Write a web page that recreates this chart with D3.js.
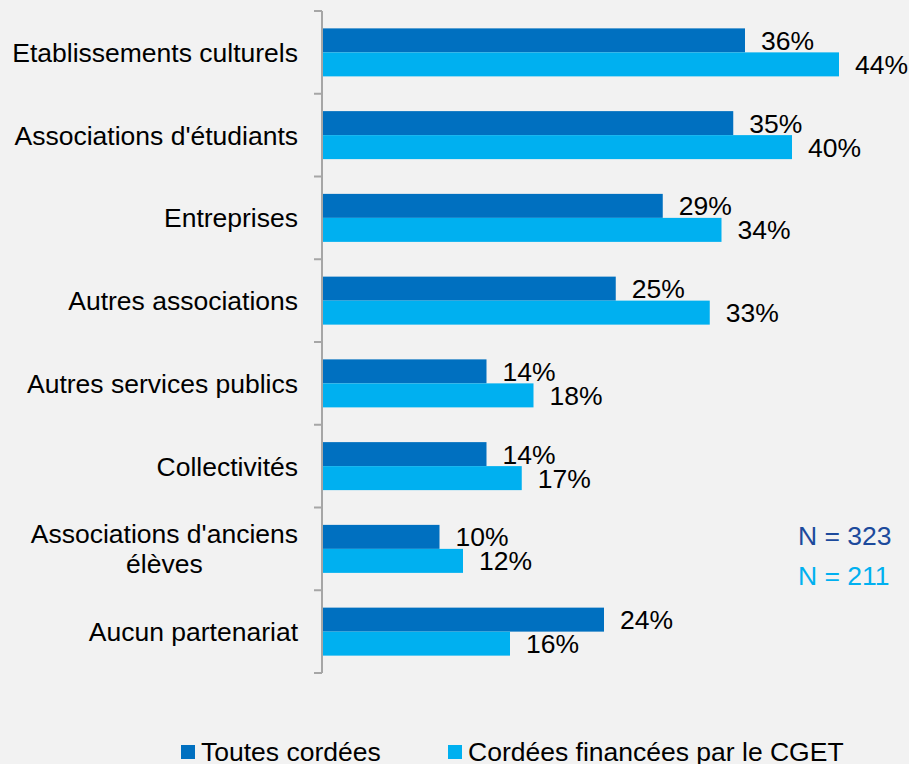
<!DOCTYPE html>
<html>
<head>
<meta charset="utf-8">
<script src="https://cdn.jsdelivr.net/npm/d3@7"></script>
<style>
  body { margin: 0; background: #f2f2f2; }
  svg { display: block; font-family: "Liberation Sans", Arial, sans-serif; }
</style>
</head>
<body>
<div id="chart"></div>
<script>
// categories and values
var categories = ["Etablissements culturels", "Associations d'étudiants", "Entreprises",
  "Autres associations", "Autres services publics", "Collectivités",
  "Associations d'anciens élèves", "Aucun partenariat"];
var toutes = [36, 35, 29, 25, 14, 14, 10, 24];
var cget = [44, 40, 34, 33, 18, 17, 12, 16];
var seriesNames = ["Toutes cordées", "Cordées financées par le CGET"];
var nLabels = ["N = 323", "N = 211"];

var svgWidth = 909, svgHeight = 764;
var colors = ["#0070c0", "#00b0f0"];
var fontSize = "26.5px";

var svg = d3.select("#chart").append("svg")
  .attr("width", svgWidth)
  .attr("height", svgHeight);

svg.append("rect").attr("width", svgWidth).attr("height", svgHeight).attr("fill", "#f2f2f2");

// plot area
var x = d3.scaleLinear().domain([0, 44]).range([322, 839]);
var y = d3.scaleBand().domain(categories).range([11, 673]);

var barH = 24;
var barTop = function(d) { return y(d) + (y.bandwidth() - 2 * barH) / 2; };

// bars
var series = [toutes, cget];
series.forEach(function(vals, s) {
  var g = svg.append("g");
  g.selectAll("rect").data(categories).enter().append("rect")
    .attr("x", x(0))
    .attr("y", function(d) { return barTop(d) + s * barH; })
    .attr("width", function(d, i) { return x(vals[i]) - x(0); })
    .attr("height", barH)
    .attr("fill", colors[s]);
  g.selectAll("text").data(categories).enter().append("text")
    .attr("x", function(d, i) { return x(vals[i]) + 16; })
    .attr("y", function(d) { return barTop(d) + s * barH + barH / 2; })
    .attr("dy", "0.36em")
    .style("font-size", fontSize)
    .attr("fill", "#000")
    .text(function(d, i) { return vals[i] + "%"; });
});

// axis: line with ticks on band boundaries
var axisG = svg.append("g").attr("stroke", "#a6a6a6").attr("stroke-width", 2);
axisG.append("line").attr("x1", 322).attr("x2", 322).attr("y1", 11).attr("y2", 673);
var bounds = categories.map(function(d) { return y(d); }).concat([673]);
axisG.selectAll("line.tick").data(bounds).enter().append("line")
  .attr("class", "tick")
  .attr("x1", 314).attr("x2", 322)
  .attr("y1", function(d) { return d; })
  .attr("y2", function(d) { return d; });

// category labels
var labelG = svg.append("g");
categories.forEach(function(c) {
  var cy = y(c) + y.bandwidth() / 2;
  if (c === "Associations d'anciens élèves") {
    var t = labelG.append("text")
      .style("font-size", fontSize)
      .attr("text-anchor", "middle")
      .attr("fill", "#000");
    // wrapped over two lines, centred inside the right-aligned block
    var lines = ["Associations d'anciens", "élèves"];
    var tmp = labelG.append("text").style("font-size", fontSize).text(lines[0]);
    var w = tmp.node().getComputedTextLength();
    tmp.remove();
    var cx = 298 - w / 2;
    lines.forEach(function(l, k) {
      t.append("tspan")
        .attr("x", cx)
        .attr("y", cy + (k - 0.5) * 30 - 0.5)
        .attr("dy", "0.36em")
        .text(l);
    });
  } else {
    labelG.append("text")
      .attr("x", 298)
      .attr("y", cy)
      .attr("dy", "0.36em")
      .attr("text-anchor", "end")
      .style("font-size", fontSize)
      .attr("fill", "#000")
      .text(c);
  }
});

// N labels
svg.selectAll("text.n").data(nLabels).enter().append("text")
  .attr("class", "n")
  .attr("x", 798)
  .attr("y", function(d, i) { return 535 + i * 40; })
  .attr("dy", "0.36em")
  .style("font-size", fontSize)
  .attr("fill", function(d, i) { return i === 0 ? "#1c4a9c" : "#00b0f0"; })
  .text(function(d) { return d; });

// legend
var legendX = [181, 448];
var leg = svg.selectAll("g.leg").data(seriesNames).enter().append("g")
  .attr("class", "leg")
  .attr("transform", function(d, i) { return "translate(" + legendX[i] + ",745)"; });
leg.append("rect").attr("width", 14).attr("height", 14)
  .attr("fill", function(d, i) { return colors[i]; });
leg.append("text").attr("x", 20).attr("y", 6).attr("dy", "0.36em")
  .style("font-size", fontSize)
  .attr("fill", "#000")
  .text(function(d) { return d; });
</script>
</body>
</html>
